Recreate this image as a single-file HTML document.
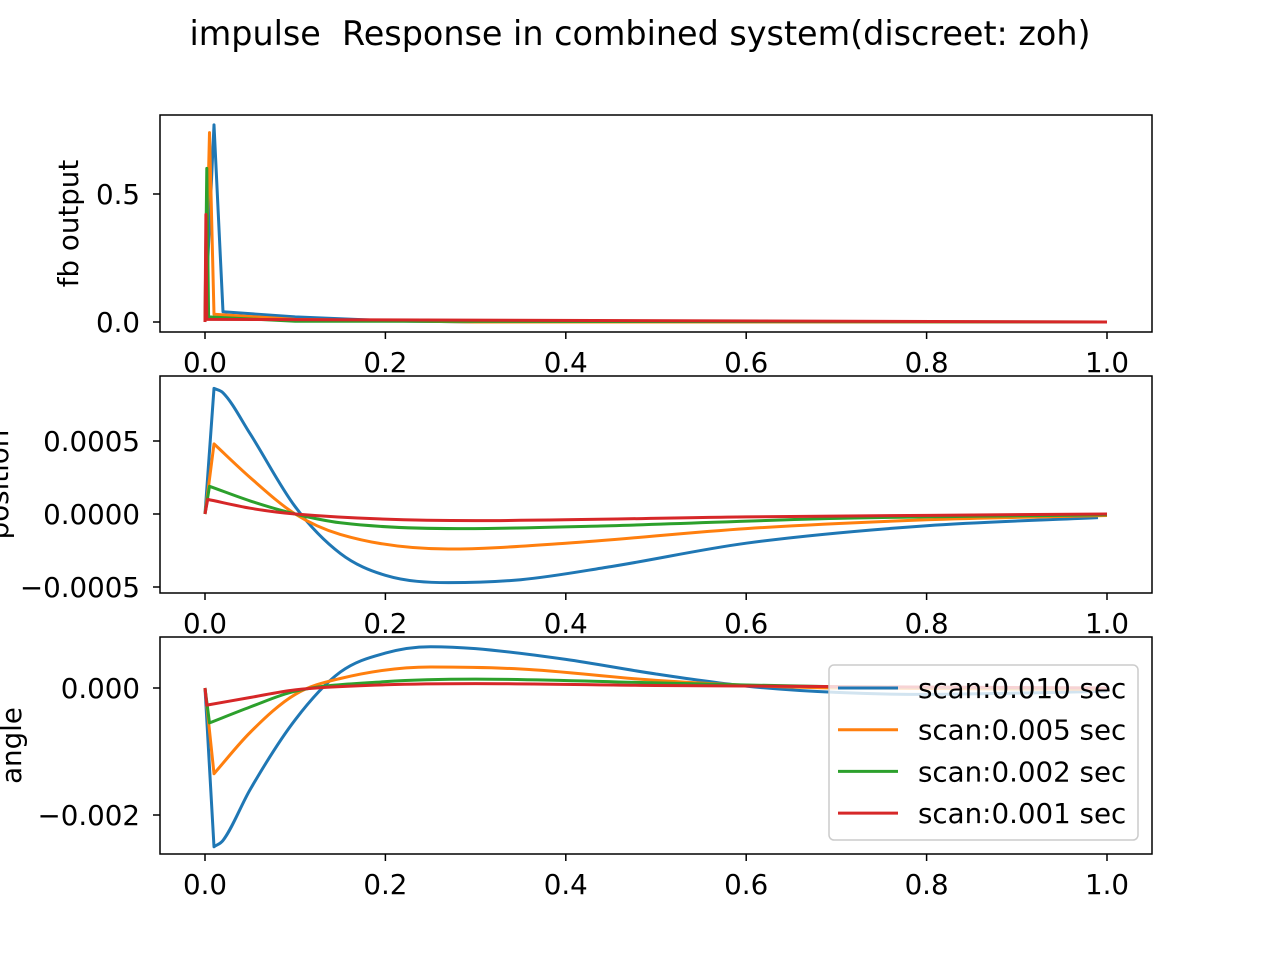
<!DOCTYPE html>
<html><head><meta charset="utf-8"><style>
body{margin:0;background:#fff}
svg{display:block;font-family:"DejaVu Sans","Liberation Sans",sans-serif}
</style></head><body>
<svg id="fig" width="1280" height="960">
<rect width="1280" height="960" fill="#fff"/>
<text x="640" y="45" text-anchor="middle" font-size="33.4" style="white-space:pre">impulse  Response in combined system(discreet: zoh)</text>
</svg>
<script>
const xTicks=[0.0,0.2,0.4,0.6,0.8,1.0];
const xTickLabels=["0.0","0.2","0.4","0.6","0.8","1.0"];
const seriesNames=["scan:0.010 sec","scan:0.005 sec","scan:0.002 sec","scan:0.001 sec"];
const colors=["#1f77b4","#ff7f0e","#2ca02c","#d62728"];
// fb output
const fbT=[[0,0.01,0.02,0.1,0.2,0.3,1.0],[0,0.005,0.01,0.1,0.3,1.0],[0,0.002,0.004,0.1,1.0],[0,0.001,0.002,1.0]];
const fbV=[[0,0.77,0.04,0.02,0.005,0,0],[0,0.74,0.03,0.01,0,0],[0,0.6,0.02,0.003,0],[0,0.42,0.01,0]];
// position (x1e-4)
const posT=[[0,0.01,0.02,0.05,0.1,0.15,0.2,0.27,0.35,0.45,0.6,0.8,0.99],[0,0.01,0.05,0.1,0.15,0.27,0.4,0.6,0.8,1.0],[0,0.005,0.05,0.1,0.15,0.28,0.45,0.7,1.0],[0,0.003,0.05,0.1,0.3,0.6,1.0]];
const posV=[[0,8.6,8.3,5.5,0.5,-2.7,-4.2,-4.7,-4.5,-3.6,-2.0,-0.8,-0.25],[0,4.8,2.5,0,-1.4,-2.4,-2.0,-1.0,-0.4,-0.1],[0,1.9,0.9,0,-0.6,-1.0,-0.8,-0.3,-0.05],[0,1.0,0.4,0,-0.45,-0.2,0]];
// angle (x1e-3)
const angT=[[0,0.01,0.02,0.05,0.1,0.15,0.2,0.25,0.3,0.4,0.5,0.6,0.7,0.8,0.9,1.0],[0,0.01,0.05,0.1,0.15,0.25,0.35,0.5,0.7,1.0],[0,0.005,0.05,0.1,0.2,0.3,0.5,0.7,1.0],[0,0.002,0.05,0.1,0.2,0.3,0.5,1.0]];
const angV=[[0,-2.5,-2.4,-1.6,-0.5,0.25,0.55,0.65,0.62,0.45,0.22,0.03,-0.07,-0.1,-0.08,-0.05],[0,-1.35,-0.7,-0.1,0.15,0.33,0.3,0.12,0,-0.02],[0,-0.55,-0.3,-0.05,0.1,0.14,0.08,0.02,0],[0,-0.27,-0.15,-0.03,0.05,0.07,0.04,0]];
const fbTicks=[0,0.5],fbTickLabels=["0.0","0.5"];
const posTicks=[-5,0,5],posTickLabels=["\u22120.0005","0.0000","0.0005"];
const angTicks=[-2,0],angTickLabels=["\u22120.002","0.000"];

const FS=27.7;
const NS="http://www.w3.org/2000/svg";
const svg=document.getElementById("fig");
const X0=160,X1=1152;
const xs=t=>205+t*902;
function el(tag,attrs,parent){const e=document.createElementNS(NS,tag);for(const k in attrs)e.setAttribute(k,attrs[k]);(parent||svg).appendChild(e);return e;}
function monoPath(px,py,smooth){
  let d="M"+px[0].toFixed(1)+","+py[0].toFixed(1);
  const n=px.length;
  if(!smooth||n<3){for(let i=1;i<n;i++)d+="L"+px[i].toFixed(1)+","+py[i].toFixed(1);return d;}
  d+="L"+px[1].toFixed(1)+","+py[1].toFixed(1);
  const X=px.slice(1),Y=py.slice(1),m=X.length;
  const s=[],t=[];
  for(let i=0;i<m-1;i++)s.push((Y[i+1]-Y[i])/(X[i+1]-X[i]));
  t[0]=s[0];t[m-1]=s[m-2];
  for(let i=1;i<m-1;i++)t[i]=(s[i-1]*s[i]<=0)?0:(s[i-1]+s[i])/2;
  for(let i=0;i<m-1;i++){if(s[i]===0){t[i]=t[i+1]=0;continue;}const a=t[i]/s[i],b=t[i+1]/s[i],h=a*a+b*b;if(h>9){const k=3/Math.sqrt(h);t[i]=k*a*s[i];t[i+1]=k*b*s[i];}}
  for(let i=0;i<m-1;i++){const h=(X[i+1]-X[i])/3;
    d+="C"+(X[i]+h).toFixed(1)+","+(Y[i]+t[i]*h).toFixed(1)+" "+(X[i+1]-h).toFixed(1)+","+(Y[i+1]-t[i+1]*h).toFixed(1)+" "+X[i+1].toFixed(1)+","+Y[i+1].toFixed(1);}
  return d;
}
function panel(name,top,bot,ys,T,V,yt,ytl,ylabel,labelX,smooth){
  const g=el("g",{});
  
  
  const cid=name+"clip";
  const cp=el("clipPath",{id:cid},g);el("rect",{x:X0,y:top,width:X1-X0,height:bot-top},cp);
  T.forEach((ts,i)=>{
    const p=el("path",{d:monoPath(ts.map(xs),V[i].map(ys),smooth),fill:"none",stroke:colors[i],"stroke-width":3,"stroke-linejoin":"round","clip-path":"url(#"+cid+")"},g);
    
    
  });
  const fr=el("rect",{x:X0,y:top,width:X1-X0,height:bot-top,fill:"none",stroke:"#000","stroke-width":1.5},g);
  
  
  xTicks.forEach((t,i)=>{
    el("line",{x1:xs(t),x2:xs(t),y1:bot,y2:bot+7,stroke:"#000","stroke-width":1.5},g);
    const tx=el("text",{x:xs(t),y:bot+40,"text-anchor":"middle","font-size":FS},g);tx.textContent=xTickLabels[i];
    
    
  });
  yt.forEach((v,i)=>{
    el("line",{x1:X0-7,x2:X0,y1:ys(v),y2:ys(v),stroke:"#000","stroke-width":1.5},g);
    const tx=el("text",{x:X0-20,y:ys(v)+10,"text-anchor":"end","font-size":FS},g);tx.textContent=ytl[i];
    
    
  });
  const cy=(top+bot)/2;
  const yl=el("text",{x:labelX,y:cy,"text-anchor":"middle","font-size":FS,transform:"rotate(-90 "+labelX+" "+cy+")"},g);yl.textContent=ylabel;
  
  
}
panel("fb",115,332,v=>322-v*256,fbT,fbV,fbTicks,fbTickLabels,"fb output",78,false);
panel("position",376,593,v=>514-v*14.6,posT,posV,posTicks,posTickLabels,"position",8,true);
panel("angle",637,854,v=>688-v*63.5,angT,angV,angTicks,angTickLabels,"angle",21,true);
const lg=el("g",{});


el("rect",{x:829,y:665,width:309,height:175,rx:5,fill:"#fff","fill-opacity":0.8,stroke:"#ccc","stroke-width":1.5},lg);
seriesNames.forEach((n,i)=>{
  const y=688+i*41.7;
  const e=el("g",{},lg);
  
  
  el("line",{x1:838,x2:898,y1:y,y2:y,stroke:colors[i],"stroke-width":3},e);
  const t=el("text",{x:918,y:y+10,"font-size":FS},e);t.textContent=n;
});
</script>
</body></html>
